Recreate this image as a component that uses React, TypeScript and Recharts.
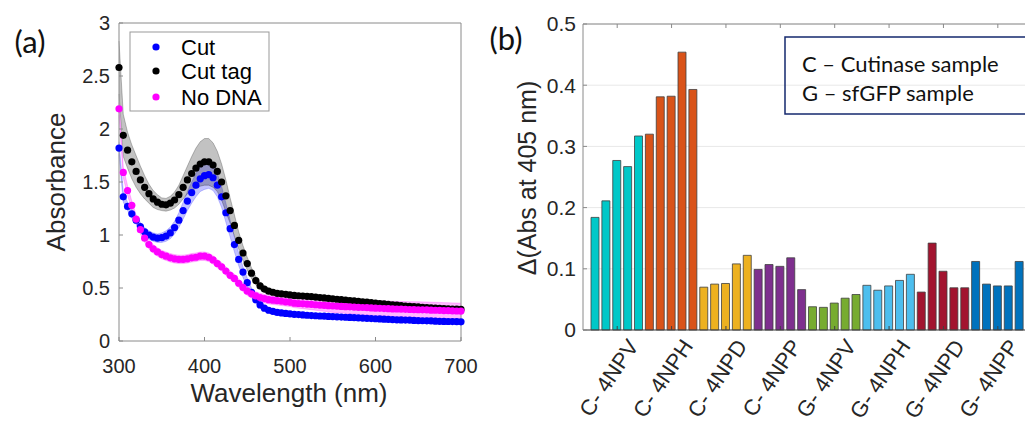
import React from "react";
import {
  ComposedChart,
  Area,
  Line,
  XAxis,
  YAxis,
  BarChart,
  Bar,
  Cell,
  CartesianGrid,
} from "recharts";

// ---- panel (a): absorbance spectra ----
const wavelengths = [
  300, 305, 310, 315, 320, 325, 330, 335, 340, 345,
  350, 355, 360, 365, 370, 375, 380, 385, 390, 395,
  400, 405, 410, 415, 420, 425, 430, 435, 440, 445,
  450, 455, 460, 465, 470, 475, 480, 485, 490, 495,
  500, 505, 510, 515, 520, 525, 530, 535, 540, 545,
  550, 555, 560, 565, 570, 575, 580, 585, 590, 595,
  600, 605, 610, 615, 620, 625, 630, 635, 640, 645,
  650, 655, 660, 665, 670, 675, 680, 685, 690, 695,
  700,
];

const cutMean = [
  1.82, 1.36, 1.27, 1.2, 1.14, 1.08, 1.03, 1.0, 0.98, 0.97,
  0.975, 0.99, 1.02, 1.07, 1.14, 1.23, 1.32, 1.4, 1.47, 1.53,
  1.56, 1.57, 1.54, 1.47, 1.36, 1.21, 1.06, 0.91, 0.77, 0.65,
  0.55, 0.46, 0.39, 0.34, 0.31, 0.29, 0.28, 0.27, 0.265, 0.26,
  0.255, 0.252, 0.249, 0.246, 0.243, 0.24, 0.238, 0.236, 0.234, 0.232,
  0.23, 0.228, 0.226, 0.224, 0.222, 0.22, 0.218, 0.216, 0.214, 0.212,
  0.21, 0.208, 0.206, 0.204, 0.202, 0.2, 0.199, 0.197, 0.196, 0.194,
  0.193, 0.191, 0.19, 0.189, 0.187, 0.186, 0.185, 0.184, 0.183, 0.182,
  0.181,
];
const cutSd = [
  0.06, 0.05, 0.04, 0.04, 0.04, 0.04, 0.04, 0.04, 0.04, 0.04,
  0.045, 0.05, 0.055, 0.06, 0.07, 0.08, 0.09, 0.1, 0.11, 0.12,
  0.13, 0.13, 0.12, 0.11, 0.1, 0.09, 0.08, 0.07, 0.06, 0.05,
  0.045, 0.04, 0.035, 0.03, 0.025, 0.025, 0.025, 0.025, 0.025, 0.025,
  0.025, 0.02, 0.02, 0.02, 0.02, 0.02, 0.02, 0.02, 0.02, 0.02,
  0.02, 0.02, 0.02, 0.02, 0.02, 0.02, 0.02, 0.02, 0.02, 0.02,
  0.02, 0.02, 0.02, 0.02, 0.02, 0.02, 0.02, 0.02, 0.02, 0.02,
  0.02, 0.02, 0.02, 0.02, 0.02, 0.02, 0.02, 0.02, 0.02, 0.02,
  0.02,
];

const cutTagMean = [
  2.58, 1.94, 1.8, 1.69, 1.6, 1.52, 1.45, 1.39, 1.34, 1.31,
  1.29, 1.285, 1.3, 1.33, 1.38, 1.45, 1.52, 1.58, 1.63, 1.67,
  1.69, 1.69, 1.66, 1.6, 1.5, 1.37, 1.23, 1.09, 0.95, 0.83,
  0.73, 0.64, 0.57, 0.52, 0.49, 0.47, 0.46, 0.45, 0.445, 0.44,
  0.435, 0.43, 0.427, 0.424, 0.421, 0.418, 0.414, 0.41, 0.406, 0.402,
  0.398, 0.394, 0.39, 0.386, 0.382, 0.378, 0.374, 0.37, 0.366, 0.362,
  0.358, 0.354, 0.35, 0.346, 0.342, 0.338, 0.334, 0.33, 0.327, 0.324,
  0.321, 0.318, 0.315, 0.312, 0.31, 0.308, 0.306, 0.304, 0.302, 0.3,
  0.298,
];
const cutTagSd = [
  0.25, 0.2, 0.17, 0.16, 0.15, 0.13, 0.11, 0.09, 0.08, 0.07,
  0.06, 0.06, 0.065, 0.075, 0.09, 0.11, 0.13, 0.16, 0.19, 0.21,
  0.22, 0.22, 0.21, 0.19, 0.17, 0.15, 0.12, 0.1, 0.08, 0.07,
  0.06, 0.05, 0.04, 0.035, 0.03, 0.025, 0.025, 0.025, 0.025, 0.025,
  0.025, 0.02, 0.02, 0.02, 0.02, 0.02, 0.02, 0.02, 0.02, 0.02,
  0.02, 0.02, 0.02, 0.02, 0.02, 0.02, 0.02, 0.02, 0.02, 0.02,
  0.02, 0.02, 0.02, 0.02, 0.02, 0.02, 0.02, 0.02, 0.02, 0.02,
  0.02, 0.02, 0.02, 0.02, 0.02, 0.02, 0.02, 0.02, 0.02, 0.02,
  0.02,
];

const noDnaMean = [
  2.19, 1.59, 1.42, 1.28, 1.15, 1.05, 0.97, 0.91, 0.87, 0.84,
  0.815, 0.8, 0.785, 0.775, 0.77, 0.77, 0.775, 0.785, 0.79, 0.8,
  0.8, 0.79, 0.765, 0.73, 0.7, 0.66, 0.62, 0.59, 0.545, 0.505,
  0.47, 0.445, 0.425, 0.41, 0.4, 0.39, 0.385, 0.38, 0.375, 0.37,
  0.365, 0.357, 0.354, 0.351, 0.348, 0.345, 0.342, 0.339, 0.336, 0.333,
  0.33, 0.328, 0.326, 0.324, 0.322, 0.32, 0.318, 0.316, 0.314, 0.312,
  0.31, 0.308, 0.306, 0.305, 0.303, 0.302, 0.3, 0.299, 0.297, 0.296,
  0.295, 0.294, 0.293, 0.291, 0.29, 0.289, 0.287, 0.286, 0.284, 0.283,
  0.282,
];
const noDnaSd = [
  0.06, 0.05, 0.045, 0.04, 0.04, 0.04, 0.04, 0.04, 0.04, 0.04,
  0.04, 0.04, 0.04, 0.04, 0.04, 0.04, 0.04, 0.04, 0.04, 0.04,
  0.04, 0.04, 0.04, 0.04, 0.04, 0.04, 0.04, 0.04, 0.04, 0.04,
  0.04, 0.04, 0.04, 0.04, 0.04, 0.04, 0.04, 0.04, 0.04, 0.04,
  0.04, 0.042, 0.044, 0.046, 0.048, 0.05, 0.052, 0.054, 0.056, 0.058,
  0.06, 0.061, 0.062, 0.063, 0.064, 0.065, 0.066, 0.067, 0.068, 0.069,
  0.07, 0.07, 0.071, 0.071, 0.072, 0.072, 0.073, 0.073, 0.074, 0.074,
  0.075, 0.075, 0.075, 0.075, 0.075, 0.075, 0.075, 0.075, 0.075, 0.075,
  0.075,
];

const absTicks = [0, 0.5, 1, 1.5, 2, 2.5, 3];
const wlTicks = [300, 400, 500, 600, 700];

// ---- panel (b): delta abs at 405 nm ----
const groupLabels = [
  "C- 4NPV", "C- 4NPH", "C- 4NPD", "C- 4NPP",
  "G- 4NPV", "G- 4NPH", "G- 4NPD", "G- 4NPP",
];
const c4npv = [0.184, 0.211, 0.277, 0.267, 0.317];
const c4nph = [0.32, 0.381, 0.382, 0.454, 0.393];
const c4npd = [0.07, 0.075, 0.076, 0.108, 0.122];
const c4npp = [0.099, 0.107, 0.104, 0.118, 0.066];
const g4npv = [0.038, 0.037, 0.044, 0.052, 0.058];
const g4nph = [0.073, 0.065, 0.072, 0.081, 0.091];
const g4npd = [0.062, 0.142, 0.096, 0.069, 0.069];
const g4npp = [0.112, 0.075, 0.072, 0.072, 0.112];
const deltaTicks = [0, 0.1, 0.2, 0.3, 0.4, 0.5];

const groupColors = [
  "#00c8c8", "#d95319", "#edb120", "#7e2f8e",
  "#77ac30", "#4dbeee", "#a2142f", "#0072bd",
];

const specRows = wavelengths.map((wl, i) => ({
  wl,
  cut: cutMean[i],
  cutTag: cutTagMean[i],
  noDna: noDnaMean[i],
  cutBand: [cutMean[i] - cutSd[i], cutMean[i] + cutSd[i]],
  cutTagBand: [cutTagMean[i] - cutTagSd[i], cutTagMean[i] + cutTagSd[i]],
  noDnaBand: [noDnaMean[i] - noDnaSd[i], noDnaMean[i] + noDnaSd[i]],
}));

const barRows = [c4npv, c4nph, c4npd, c4npp, g4npv, g4nph, g4npd, g4npp].flatMap(
  (vals, g) =>
    vals.map((v, i) => ({ key: `${groupLabels[g]}_${i}`, group: g, value: v }))
);

const FONT = "'Liberation Sans', Arial, Helvetica, sans-serif";
const CAL = "Lato, 'Open Sans', sans-serif";
const TXT = "#262626";
const AXIS = "#8a8a8a";

// plot edges of panel (b)
const B_TOP = 24;
const B_BOTTOM = 330;

const fmt = (v: number) => String(v);

function GroupTick(props: any) {
  const { x, index } = props;
  if (index % 5 !== 2) return <g />;
  const label = groupLabels[Math.floor(index / 5)];
  const ax = x + 16;
  const ay = 342;
  return (
    <g>
      <line x1={x} x2={x} y1={B_BOTTOM} y2={B_BOTTOM - 4} stroke="#404040" />
      <text
        x={ax}
        y={ay}
        transform={`rotate(-56, ${ax}, ${ay})`}
        textAnchor="end"
        dominantBaseline="central"
        fontSize={22}
        fontFamily={FONT}
        fill={TXT}
      >
        {label}
      </text>
    </g>
  );
}

function TopGroupTick(props: any) {
  const { x, index } = props;
  if (index % 5 !== 2) return <g />;
  return <line x1={x} x2={x} y1={B_TOP} y2={B_TOP + 4} stroke={AXIS} />;
}

export default function App() {
  return (
    <div
      style={{
        position: "absolute",
        left: 0,
        top: 0,
        width: 1025,
        height: 422,
        overflow: "hidden",
        background: "#fff",
      }}
    >
      <div style={{ position: "absolute", left: 0, top: 0 }}>
        <ComposedChart
          width={480}
          height={422}
          data={specRows}
          margin={{ top: 23, right: 19, left: 59, bottom: 51 }}
        >
          <XAxis
            dataKey="wl"
            type="number"
            domain={[300, 700]}
            ticks={wlTicks}
            tickSize={-4}
            tickMargin={22}
            height={30}
            stroke={AXIS}
            tick={{ fill: TXT, fontSize: 20, fontFamily: FONT }}
          />
          <XAxis
            xAxisId="t"
            dataKey="wl"
            type="number"
            orientation="top"
            domain={[300, 700]}
            ticks={wlTicks}
            mirror
            tick={false}
            tickSize={4}
            stroke={AXIS}
          />
          <YAxis
            domain={[0, 3]}
            ticks={absTicks}
            tickSize={-4}
            tickMargin={13}
            width={60}
            stroke={AXIS}
            tickFormatter={fmt}
            tick={{ fill: TXT, fontSize: 20, fontFamily: FONT }}
          />
          <YAxis
            yAxisId="r"
            orientation="right"
            domain={[0, 3]}
            ticks={absTicks}
            mirror
            tick={false}
            tickSize={4}
            stroke={AXIS}
          />
          <Area
            dataKey="cutBand"
            type="linear"
            fill="#0000ff"
            fillOpacity={0.24}
            stroke="#0000ff"
            strokeOpacity={0.25}
            strokeWidth={0.8}
            isAnimationActive={false}
            activeDot={false}
          />
          <Area
            dataKey="cutTagBand"
            type="linear"
            fill="#000000"
            fillOpacity={0.24}
            stroke="#000000"
            strokeOpacity={0.3}
            strokeWidth={0.8}
            isAnimationActive={false}
            activeDot={false}
          />
          <Area
            dataKey="noDnaBand"
            type="linear"
            fill="#ff00ff"
            fillOpacity={0.27}
            stroke="#ff00ff"
            strokeOpacity={0.3}
            strokeWidth={0.8}
            isAnimationActive={false}
            activeDot={false}
          />
          <Line
            dataKey="cut"
            stroke="none"
            strokeWidth={0}
            dot={{ r: 3.6, fill: "#0000ff", stroke: "none" }}
            activeDot={false}
            isAnimationActive={false}
          />
          <Line
            dataKey="cutTag"
            stroke="none"
            strokeWidth={0}
            dot={{ r: 3.6, fill: "#000000", stroke: "none" }}
            activeDot={false}
            isAnimationActive={false}
          />
          <Line
            dataKey="noDna"
            stroke="none"
            strokeWidth={0}
            dot={{ r: 3.6, fill: "#ff00ff", stroke: "none" }}
            activeDot={false}
            isAnimationActive={false}
          />
        </ComposedChart>
      </div>

      <div style={{ position: "absolute", left: 480, top: 0 }}>
        <BarChart
          width={575}
          height={422}
          data={barRows}
          margin={{ top: 24, right: 10, left: 43, bottom: 62 }}
          barCategoryGap={1}
        >
          <CartesianGrid vertical={false} stroke="#e8e8e8" />
          <XAxis
            dataKey="key"
            interval={0}
            padding={{ left: 7, right: 20 }}
            height={30}
            tickLine={false}
            stroke="#404040"
            tick={<GroupTick />}
          />
          <XAxis
            xAxisId="t"
            dataKey="key"
            orientation="top"
            interval={0}
            padding={{ left: 7, right: 20 }}
            mirror
            tickLine={false}
            stroke={AXIS}
            tick={<TopGroupTick />}
          />
          <YAxis
            domain={[0, 0.5]}
            ticks={deltaTicks}
            tickSize={-4}
            tickMargin={11}
            width={60}
            stroke={AXIS}
            tickFormatter={fmt}
            tick={{ fill: TXT, fontSize: 21, fontFamily: FONT }}
          />
          <Bar
            dataKey="value"
            barSize={8}
            stroke="#404040"
            strokeWidth={0.8}
            isAnimationActive={false}
          >
            {barRows.map((r) => (
              <Cell key={r.key} fill={groupColors[r.group]} />
            ))}
          </Bar>
        </BarChart>
      </div>

      <svg
        width={1025}
        height={422}
        style={{ position: "absolute", left: 0, top: 0, pointerEvents: "none" }}
      >
        <text x={30} y={41} fontSize={31} fontFamily={CAL} fill="#111" textAnchor="middle" dominantBaseline="central">
          (a)
        </text>
        <text
          x={56}
          y={182}
          transform="rotate(-90, 56, 182)"
          fontSize={26}
          fontFamily={FONT}
          fill={TXT}
          textAnchor="middle"
          dominantBaseline="central"
        >
          Absorbance
        </text>
        <text x={289} y={393} fontSize={26} fontFamily={FONT} fill={TXT} textAnchor="middle" dominantBaseline="central">
          Wavelength (nm)
        </text>

        <rect x={130} y={32} width={139} height={79} fill="#fff" stroke="#999" strokeWidth={1} />
        <circle cx={156} cy={47} r={3.6} fill="#0000ff" />
        <circle cx={156} cy={71} r={3.6} fill="#000000" />
        <circle cx={156} cy={97} r={3.6} fill="#ff00ff" />
        <text x={181} y={47} fontSize={22} fontFamily={FONT} fill="#000" dominantBaseline="central">Cut</text>
        <text x={181} y={71} fontSize={22} fontFamily={FONT} fill="#000" dominantBaseline="central">Cut tag</text>
        <text x={181} y={97} fontSize={22} fontFamily={FONT} fill="#000" dominantBaseline="central">No DNA</text>

        <text x={506} y={38} fontSize={31} fontFamily={CAL} fill="#111" textAnchor="middle" dominantBaseline="central">
          (b)
        </text>
        <text
          x={527}
          y={178}
          transform="rotate(-90, 527, 178)"
          fontSize={25}
          fontFamily={FONT}
          fill={TXT}
          textAnchor="middle"
          dominantBaseline="central"
        >
          Δ(Abs at 405 nm)
        </text>

        <rect x={785} y={37} width={300} height={77} fill="none" stroke="#14286e" strokeWidth={1.5} />
        <text x={802} y={63} fontSize={22} fontFamily={CAL} fill="#111" dominantBaseline="central">
          C – Cutinase sample
        </text>
        <text x={802} y={92} fontSize={22} fontFamily={CAL} fill="#111" dominantBaseline="central">
          G – sfGFP sample
        </text>
      </svg>
    </div>
  );
}
